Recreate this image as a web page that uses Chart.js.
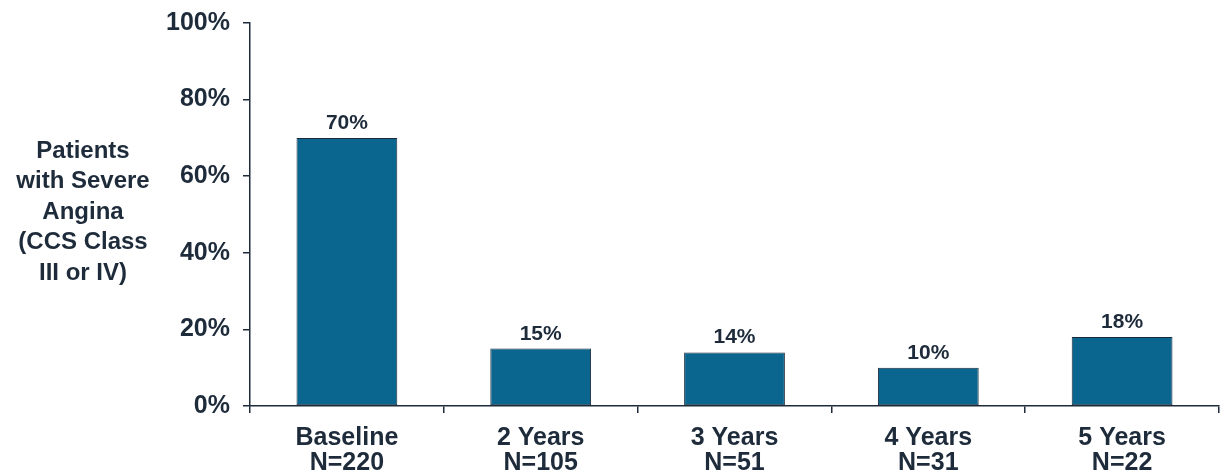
<!DOCTYPE html>
<html><head><meta charset="utf-8">
<script src="https://cdn.jsdelivr.net/npm/chart.js@4/dist/chart.umd.min.js"></script>
<style>html,body{margin:0;padding:0;background:#fff}#wrap{width:1220px;height:474px}</style>
</head><body><div id="wrap"><canvas id="c" width="1220" height="474"></canvas></div>
<script>
const categories = [['Baseline','N=220'],['2 Years','N=105'],['3 Years','N=51'],['4 Years','N=31'],['5 Years','N=22']];
const values = [70, 15, 14, 10, 18];
const yTitleLines = ['Patients','with Severe','Angina','(CCS Class','III or IV)'];
const yTicks = [0, 20, 40, 60, 80, 100];

const TXT = '#1e2b3a';
const FONT = '"Liberation Sans", Arial, sans-serif';

const labelPlugin = {
  id: 'labels',
  afterDatasetsDraw(chart) {
    const ctx = chart.ctx;
    const meta = chart.getDatasetMeta(0);
    ctx.save();
    ctx.fillStyle = TXT;
    ctx.font = 'bold 21px ' + FONT;
    ctx.textAlign = 'center';
    ctx.textBaseline = 'alphabetic';
    meta.data.forEach((bar, i) => {
      ctx.fillText(values[i] + '%', bar.x, bar.y - 9);
    });
    ctx.font = 'bold 24px ' + FONT;
    ctx.textBaseline = 'middle';
    yTitleLines.forEach((t, i) => {
      ctx.fillText(t, 83, 151 + i * 30.5);
    });
    ctx.restore();
  }
};

new Chart(document.getElementById('c'), {
  type: 'bar',
  data: {
    labels: categories,
    datasets: [{
      data: values,
      backgroundColor: '#0b668f',
      borderColor: '#1b2a3a',
      borderWidth: 1,
      borderSkipped: false,
      categoryPercentage: 1,
      barPercentage: 0.52
    }]
  },
  options: {
    responsive: false,
    animation: false,
    layout: { padding: { top: 23, right: 1, left: 0, bottom: 0 } },
    plugins: { legend: { display: false }, tooltip: { enabled: false } },
    scales: {
      x: {
        grid: { display: true, drawOnChartArea: false, offset: true, tickLength: 7, color: TXT, lineWidth: 1.5 },
        border: { display: true, color: TXT, width: 1.5 },
        ticks: { color: TXT, font: { family: FONT, size: 25, weight: 'bold', lineHeight: 1.0 }, padding: 13, maxRotation: 0, autoSkip: false },
        afterFit(s) { s.height = 68; }
      },
      y: {
        min: 0, max: 100,
        afterBuildTicks(s) { s.ticks = yTicks.map(v => ({ value: v })); },
        grid: { display: true, drawOnChartArea: false, tickLength: 7, color: TXT, lineWidth: 1.5 },
        border: { display: true, color: TXT, width: 1.5 },
        ticks: { color: TXT, font: { family: FONT, size: 25, weight: 'bold', lineHeight: 1.0 }, padding: 13, callback: v => v + '%' },
        afterFit(s) { s.width = 250; s.paddingTop = 0; s.paddingBottom = 0; }
      }
    }
  },
  plugins: [labelPlugin]
});
</script>
</body></html>
